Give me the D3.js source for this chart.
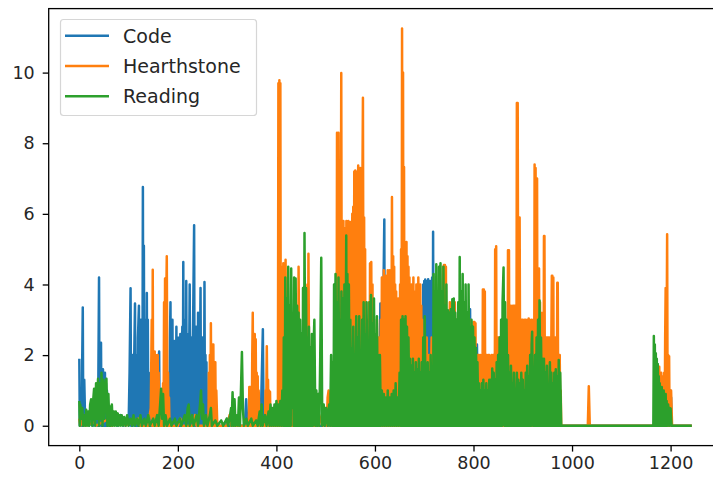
<!DOCTYPE html>
<html>
<head>
<meta charset="utf-8">
<script src="https://cdn.jsdelivr.net/npm/d3@7"></script>
<style>
  body { margin: 0; background: #fff; }
  svg { display: block; }
  text { font-family: "DejaVu Sans", sans-serif; fill: #262626; }
</style>
</head>
<body>
<svg id="chart" width="713" height="478"></svg>
<script>
var seriesNames = ['Code', 'Hearthstone', 'Reading'];
var seriesColors = ['#1f77b4', '#ff7f0e', '#2ca02c'];
var xTicks = [0, 200, 400, 600, 800, 1000, 1200];
var yTicks = [0, 2, 4, 6, 8, 10];

// [x, hours]
var code = [[0,1.9],[1,0],[3,0.5],[5,0],[6,2.0],[7,3.35],[8,0],[10,1.3],[12,0],[16,0.2],[20,0],[24,0.1],[28,0],[32,0.3],[36,0],[38,0],[40,4.2],[41,0],[42,1.0],[44,2.35],[45,0],[46,1.5],[47,0],[48,1.6],[49,0],[50,1.5],[51,0],[52,1.5],[53,0],[54,1.2],[55,0],[56,1.0],[58,0],[62,0.3],[66,0],[72,0.2],[78,0],[84,0.3],[90,0],[96,0.2],[100,0],[102,1.5],[104,3.89],[105,0],[106,1.5],[107,0],[108,2.0],[109,0],[111,1.5],[113,3.46],[114,0],[115,1.5],[116,0],[117,2.0],[118,0],[119,2.5],[121,3.4],[122,0],[123,2.5],[124,0],[125,3.0],[127,2.0],[128,0],[129,6.76],[130,0],[131,5.1],[132,0],[133,2.0],[134,0],[135,3.0],[136,0],[137,3.76],[138,0],[139,3.0],[140,0],[141,1.5],[143,0],[155,0],[157,1.0],[158,0],[160,1.5],[162,2.1],[163,0],[165,0.5],[167,0],[180,0],[182,1.5],[183,0],[184,2.5],[185,3.5],[186,0],[187,2.5],[188,0],[189,3.0],[190,0],[191,2.0],[192,0],[193,2.4],[194,0],[195,2.0],[196,0],[197,2.8],[198,0],[199,2.5],[200,0],[201,2.2],[202,0],[203,2.5],[204,0],[205,2.6],[206,0],[207,2.5],[208,0],[209,2.8],[210,0],[211,4.64],[212,0],[213,2.0],[214,0],[215,3.0],[216,0],[217,4.1],[218,0],[219,2.5],[220,0],[221,2.6],[222,0],[224,4.0],[225,0],[226,2.5],[227,0],[228,2.5],[229,0],[230,2.0],[231,3.0],[233,5.68],[234,0],[235,2.0],[236,0],[237,2.8],[238,0],[239,2.0],[240,0],[241,3.2],[242,0],[243,2.2],[244,0],[245,2.0],[246,3.9],[247,0],[248,2.0],[249,0],[250,2.5],[251,0],[252,2.0],[253,0],[254,4.07],[255,0],[256,2.0],[257,0],[258,1.8],[259,0],[260,0.5],[262,0],[270,0.2],[274,0],[298,0],[300,0.2],[303,0],[336,0],[338.6,0.75],[341,0],[368,0],[370,1.2],[372.5,2.73],[374,0],[376,0.3],[378,0],[395,0],[397.5,0.5],[400,0],[408,0],[410,0.8],[412,0],[420,0],[422,1.0],[424,0],[606,0],[608,1.5],[609,0],[611,3.46],[612,0],[613,3.0],[614,0],[615,3.0],[616,0],[617,3.5],[619,5.84],[620,0],[621,1.5],[623,0],[660,0],[663,1.5],[666,0],[670,2.5],[672,0],[694,0],[696,3.0],[697,0],[698,4.0],[699,0],[700,4.1],[701,0],[702,4.14],[703,0],[704,4.1],[705,0],[706,4.1],[707,0],[708,4.15],[709,0],[710,4.0],[711,0],[712,4.1],[713,0],[714,4.0],[715,0],[716,4.2],[717,0],[718,5.49],[719,0],[720,3.0],[722,0],[780,0],[782,2.5],[783,2.94],[785,0],[790,0],[792,3.0],[793,3.3],[795,0],[804,0],[806,2.0],[807,2.3],[809,0],[877,0],[879,3.0],[880,3.22],[882,0],[946,0],[948,2.0],[949,2.45],[951,0],[1195,0],[1197,0.8],[1198,0],[1199,1.0],[1200,0],[1201,0.8],[1202,0],[1204,0],[1243,0]];

var hearthstone = [[0,0.2],[2,0],[10,0.3],[12,0],[30,0.1],[34,0],[60,0.2],[64,0],[90,0.1],[94,0],[120,0.2],[124,0],[140,0],[145,0.5],[147,3.0],[148,0],[149,4.42],[150,0],[151,2.1],[152,0],[153,2.1],[154,0],[155,2.0],[156,0],[157,1.8],[158,0],[159,2.0],[160,0],[161,1.5],[162,0],[163,1.0],[165,0],[169,0],[170,1.2],[171,0],[172,3.5],[173,0],[174,4.17],[175,0],[176,3.0],[177.5,4.8],[179,0],[180,1.5],[181,0],[182,0.8],[183,0],[200,0],[205,0.2],[208,0],[230,0],[235,0.3],[238,0],[262,0],[263,1.5],[264,0],[265,2.0],[266,0],[267,2.9],[268,0],[269,2.0],[270,0],[271,2.3],[272,2.3],[273,0],[274,1.8],[275,0],[276,1.8],[277,0],[278,1.0],[280,0],[300,0],[305,0.3],[308,0],[344,0],[345,1.1],[346,0],[347,1.1],[348,0],[349,1.1],[350,0],[351,2.0],[352,3.2],[353,0],[354,2.5],[355,0],[356,2.6],[357,0],[358,2.45],[359,0],[360,1.5],[361,0],[362,1.4],[363,0],[364,1.0],[366,0],[377,0],[378,1.0],[379,0],[380.5,2.25],[382,0],[383,1.3],[384,0],[385,1.0],[386,0],[387,0.96],[388,0],[389,0.5],[391,0],[403,0],[404,9.7],[405,0],[406,9.78],[407,0],[408,9.7],[409,0],[410,4.5],[411,0],[412,4.45],[413,0],[414,4.6],[415,0],[416,4.5],[417,0],[418.6,4.7],[420,0],[421,3.0],[423,0],[424,3.0],[426,0],[427,2.5],[429,0],[430,3.0],[432,0],[433,2.5],[435,0],[436,3.0],[438,0],[439,2.5],[441,0],[442,3.0],[444,0],[445,4.5],[447,0],[448,2.5],[450,0],[451,2.0],[453,0],[454,2.5],[456,0],[458,2.0],[460,0],[461,2.5],[463,4.0],[464,0],[465,4.87],[467,0],[468,2.0],[470,0],[471,2.0],[473,0],[474,1.5],[476,0],[477,1.0],[479,0],[483,0.4],[486,0],[492,0.3],[495,0],[500,0.5],[502,0],[504,0.8],[506,1.0],[508,0],[511,0.8],[513,0],[516,1.0],[518,0],[520,2.0],[522,0],[523,8.3],[524,0],[526,8.3],[527,0],[528,3.0],[530,0],[531.6,9.99],[533,0],[534,5.0],[535,0],[536,5.8],[537,0],[538,5.2],[539,0],[540,5.6],[541,0],[542,5.8],[543,0],[544,4.8],[545,0],[546,5.8],[547,0],[548,5.0],[549,0],[550,5.77],[551,0],[552,5.3],[553,0],[554,6.0],[555,0],[556,6.2],[557,0],[558,7.2],[559,0],[560,7.23],[561,0],[562,5.8],[563,0],[564,7.2],[565,0],[566,7.37],[567,0],[568,6.6],[569,0],[570,7.3],[571,0],[572,6.2],[573,0],[574,5.6],[575.6,9.29],[577,0],[578,5.9],[579,0],[580,5.0],[581,0],[582,3.0],[583,0],[584,3.0],[585,0],[586,3.0],[587,0],[588,3.5],[589,0],[590,4.6],[591,0],[592.5,4.64],[594,0],[595,4.0],[596,0],[597,2.5],[598,0],[600,2.5],[602,0],[604,3.0],[606,0],[608,2.5],[610,0],[612,3.0],[613,0],[614,4.2],[615,0],[616,3.6],[617,0],[618,4.4],[619,0],[620,3.8],[621,0],[622,4.25],[623,0],[624,3.2],[625,0],[626,4.4],[627,0],[628,3.9],[629,0],[630,4.4],[631,0],[632,3.5],[633,0],[634.5,6.48],[636,0],[637,4.8],[638,0],[639,4.5],[640,0],[641,4.0],[642,0],[643,3.8],[644,0],[645,3.4],[646,0],[647,3.6],[648,0],[649,3.4],[650,0],[651,4.0],[652,0],[653,5.0],[654,0],[655,11.25],[656,0],[657,10.0],[658,0],[659,7.33],[660,0],[661,5.1],[662,0],[663,5.0],[664,5.2],[665,0],[666,4.8],[667,0],[668,4.5],[669,0],[670,4.2],[671,0],[672,3.5],[673,0],[674,4.0],[675,0],[676,3.0],[677,0],[678,4.2],[679,0],[680,3.8],[681,0],[682,2.5],[683,0],[684,4.0],[685,0],[686,3.6],[687,0],[688,4.2],[689,0],[690,3.2],[691,0],[692,4.0],[693,0],[694,3.4],[695,0],[696,3.0],[698,0],[700,2.5],[702,0],[705,2.5],[707,0],[710,2.0],[712,0],[715,2.5],[717,0],[720,2.5],[722,0],[725,3.0],[727,0],[730,3.0],[732,0],[735,3.5],[737,0],[738,4.5],[739,0],[740,4.55],[741,0],[742,4.55],[743,0],[744,4.5],[745,0],[747,3.0],[749,0],[752,3.5],[754,0],[757,3.0],[759,0],[762,3.5],[764,0],[767,3.0],[769,0],[772,3.0],[774,0],[777,3.0],[779,0],[782,3.0],[784,0],[787,3.0],[789,0],[792,3.0],[794,0],[797,2.5],[799,0],[800,2.94],[801,0],[802,2.94],[803,0],[804,2.9],[805,0],[806,2.0],[808,0],[809,2.0],[810,0],[811,2.0],[813,0],[814,2.0],[815,0],[816,2.0],[818,0],[819,3.86],[820,0],[821,3.86],[822,0],[823,3.8],[824,0],[825,2.0],[826,0],[827,2.0],[829,0],[830,2.0],[831,0],[832,2.0],[834,0],[835,1.5],[836,0],[837,2.0],[839,0],[840,2.0],[841,0],[842,2.0],[843,0],[844,5.0],[845,0],[846,5.08],[847,0],[848,2.5],[849,0],[850,2.5],[851,0],[852,2.5],[853,0],[854,2.5],[855,0],[856,2.5],[857,0],[858,2.5],[859,0],[860,2.5],[861,0],[862,2.5],[863,0],[864,2.5],[865,0],[866,2.5],[867,0],[868,2.5],[869,0],[870,4.97],[871,0],[872,4.97],[873,0],[874,3.4],[875,0],[876,3.4],[877,0],[878,3.2],[879,0],[880,3.4],[881,0],[882,3.4],[883,0],[884,3.4],[885,0],[886,3.0],[887,0],[888,9.14],[889,0],[889.7,9.14],[891,0],[892,5.9],[893,0],[893.6,5.9],[895,0],[896,3.0],[897,0],[898,3.0],[899,0],[900,3.0],[901,0],[902,2.8],[903,0],[904,3.0],[905,0],[906,3.0],[907,0],[908,2.8],[909,0],[910,3.0],[911,0],[912,3.04],[913,0],[914,3.0],[915,0],[916,2.8],[917,0],[918,3.0],[919,0],[920,2.8],[921,0],[922,3.0],[923,0],[924,7.4],[925,0],[926,7.3],[927,0],[928,7.0],[929,7.0],[930,0],[931,4.45],[932,0],[933,4.45],[934,0],[935,3.5],[936,0],[937,3.2],[938,0],[939,3.0],[940,0],[941,3.2],[942,0],[943,5.37],[944,5.37],[945,0],[946,2.5],[947,0],[948,2.5],[949,0],[950,2.5],[951,0],[952,2.5],[953,0],[954,2.5],[955,0],[956,2.5],[957,0],[958,2.5],[959,4.25],[960,4.25],[961,0],[962,4.2],[963,0],[964,2.5],[965,0],[966,2.5],[967,0],[968,2.5],[969,0],[970,4.05],[971,4.05],[972,0],[973,2.0],[974,0],[975,2.0],[976,0],[977,1.0],[978,0],[1032,0],[1034,1.12],[1036,0],[1175,0],[1177,1.67],[1178,0],[1179,1.5],[1180,0],[1181,1.5],[1182,0],[1183,1.4],[1184,0],[1185,1.2],[1186,0],[1187,1.5],[1188,0],[1189,2.5],[1190,3.9],[1191,0],[1193,5.42],[1194,0],[1195,2.0],[1196,0],[1197,1.97],[1198,0],[1199,0.5],[1201,1.0],[1203,0],[1243,0]];

var reading = [[0,0.7],[1,0],[2,0.6],[4,0.2],[6,0.5],[8,0],[10,0.3],[12,0],[14,0.45],[16,0],[18,0.4],[20,0],[22,0.6],[24,0.75],[26,0],[28,0.7],[30,1.05],[32,0],[34,1.2],[36,0.2],[38,1.33],[40,0],[42,1.2],[44,0.2],[45,1.5],[47,0],[49,1.3],[51,0.2],[53,1.1],[55,1.33],[57,0],[59,0.9],[61,0],[62,0.55],[64,0],[66,0.6],[68,0],[70,0.4],[72,0],[74,0.4],[76,0],[78,0.35],[80,0],[82,0.3],[84,0],[86,0.3],[88,0],[91,0.25],[94,0],[97,0.3],[100,0],[104,0.2],[107,0],[110,0.3],[113,0],[117,0.2],[120,0],[124,0.3],[127,0],[132,0.2],[135,0],[140,0.3],[143,0],[150,0.2],[153,0],[158,0.3],[161,0],[164,0.6],[166,1.05],[168,0.2],[170,0.9],[172,0],[175,0.3],[178,0],[184,0.2],[187,0],[194,0.2],[197,0],[204,0.2],[207,0],[214,0.3],[217,0],[220,0.5],[222,0.6],[224,0],[229,0.3],[232,0],[238,0.3],[241,0],[245,0.6],[247,1.0],[249,0.2],[251,0.6],[253,0],[257,0.3],[260,0],[265,0.3],[267,0.5],[269,0],[276,0.15],[280,0],[288,0.15],[292,0],[299,0.2],[302,0],[306,0.3],[308,0.5],[309,0],[311,0.95],[313,0],[315,0.75],[317,0],[320,0.3],[322,0],[324,0.8],[326,0],[328,1.0],[330,2.09],[332,0.5],[334,0],[339,0.2],[342,0],[349,0.2],[352,0],[359,0.15],[362,0],[366,0.4],[368,0],[370,0.6],[372,0],[377,0.3],[380,0],[384,0.4],[386,0],[388,0.6],[390,0],[392,0.5],[394,0],[396,0.6],[398,0],[400,0.7],[402,0],[404,0.6],[406,0],[408,0.7],[410,0],[412,1.0],[414,0],[415,2.5],[417,0],[418,4.2],[420,0],[421,3.6],[423,0],[424,4.5],[426,0],[427,3.4],[429,0],[430,4.45],[432,0.5],[433,3.2],[435,0],[436,4.2],[438,0],[439,4.17],[441,0],[442,3.4],[444,0],[445,3.2],[447,0],[448,3.0],[450,0],[451,2.6],[453,0],[454,3.9],[456,0],[457,5.46],[459,0],[460,3.9],[462,0],[463,2.5],[465,0],[466,2.8],[468,0],[469,2.2],[471,0],[472,2.6],[474,0],[475,2.0],[477,3.0],[479,0],[481,1.0],[483,0],[485,0.9],[487,0],[489,2.0],[491,4.76],[493,0],[496,0.6],[498,0],[501,0.5],[504,0],[507,0.6],[509,0],[511,2.0],[513,0],[514,1.8],[516,0],[517,4.0],[519,0],[520,4.3],[522,0],[523,3.5],[525,0],[526,4.2],[528,0],[529,3.0],[531,0],[532,3.8],[534,0],[535,3.6],[537,0],[538,4.0],[540,0],[541.7,5.39],[543,0],[544,4.3],[546,0],[547,4.0],[549,0],[550,3.0],[552,0],[553,2.2],[555,0],[556,2.8],[558,0],[559,1.8],[561,0],[562,3.1],[564,0],[565,2.5],[567,0],[568,3.1],[570,0],[571,1.5],[573,0],[574,3.0],[576,0],[577,3.5],[579,0],[580,2.6],[582,0],[583,3.5],[585,0],[586,2.4],[588,0],[589,3.5],[591,0],[592,3.7],[594,0],[595,2.9],[597,0],[598,3.6],[600,0],[601,2.6],[603,0],[604,3.1],[606,0],[607,2.0],[609,0],[610,2.0],[612,0],[614,1.0],[616,0],[618,0.9],[620,0],[622,0.8],[624,0],[626,1.0],[628,0],[630,0.8],[632,0],[634,0.9],[636,0],[638,1.0],[640,0],[642,1.2],[644,0],[646,0.8],[648,0],[650,1.5],[652,0],[653,3.0],[655,0],[656,3.1],[658,0],[659,3.0],[661,0],[662,3.1],[664,0],[665,2.8],[667,0],[668,2.5],[670,0],[671,1.9],[673,0],[674,1.7],[676,0],[677,1.9],[679,0],[680,1.5],[682,0],[683,1.8],[685,0],[686,1.6],[688,0],[689,1.9],[691,0],[692,1.5],[694,0],[695,1.8],[697,0],[698,2.5],[700,0],[701,3.1],[703,0],[704,1.5],[706,0],[707,1.8],[709,0],[710,1.5],[712,0],[713,2.0],[715,0],[716,1.5],[718,0],[719,4.3],[721,0],[722,3.8],[724,0],[724.5,4.57],[726,0],[727,3.6],[729,0],[730,4.5],[732,0],[733,4.6],[735,0],[736,3.8],[738,0],[739,4.5],[741,0],[742,3.4],[744,0],[745,4.0],[747,0],[748,3.27],[750,0],[751,3.2],[753,0],[754,3.3],[756,0],[757,3.58],[759,0],[760,3.6],[762,0],[763,3.2],[765,0],[766,3.0],[768,0],[769,3.5],[771,0],[772,4.78],[774,0],[775,3.8],[777,0],[778,4.3],[780,0],[781,3.5],[783,0],[784,4.0],[786,0],[787,3.2],[789,0],[790,4.0],[792,0],[793,2.8],[795,0],[796,3.0],[798,0],[799,2.8],[801,0],[802,2.5],[804,0],[805,2.2],[807,0],[808,1.8],[810,0],[811,1.2],[813,0],[814,1.0],[816,0],[817,1.2],[819,0],[820,1.3],[822,0],[823,1.0],[825,0],[826,1.2],[828,0],[829,1.0],[831,0],[832,1.3],[834,0],[835,1.3],[837,0],[838,1.62],[840,0],[841,1.5],[843,0],[844,1.3],[846,0],[847,1.8],[849,0],[850,2.0],[852,0],[853,2.5],[855,0],[856,3.0],[858,0],[859,3.5],[861,4.48],[863,0],[864,3.5],[866,0],[867,3.0],[869,0],[870,2.0],[872,0],[873,1.5],[875,0],[876,1.7],[878,0],[879,1.2],[881,0],[882,1.5],[884,0],[885,1.0],[887,0],[888,1.5],[890,0],[891,1.3],[893,0],[894,1.2],[896,0],[897,1.5],[899,0],[900,1.3],[902,0],[903,1.0],[905,0],[906,1.5],[908,0],[909,1.7],[911,0],[912,1.4],[914,0],[915,2.0],[917,0],[918,2.3],[919,2.66],[921,0],[922,1.5],[924,0],[925,2.0],[927,0],[928,2.5],[930,0],[931,3.0],[933,0],[934,3.55],[936,0],[937,2.5],[939,0],[940,1.9],[942,0],[943,1.9],[945,0],[946,1.5],[948,0],[949,1.7],[951,0],[952,1.0],[954,0],[955,1.8],[957,0],[958,1.5],[960,0],[961,1.2],[963,0],[964,1.5],[966,0],[967,1.6],[969,0],[970,1.4],[972,0],[973,1.86],[975,0],[976,1.5],[978,0],[1165,0],[1166,2.54],[1167,0],[1168,2.3],[1169,0],[1170,2.05],[1171,0],[1172,1.9],[1173,0],[1174,1.75],[1175,0],[1176,1.4],[1177,0],[1178,1.2],[1179,0],[1180,1.0],[1181,0],[1182,1.1],[1183,0],[1184,0.9],[1185,0],[1186,1.0],[1187,0],[1188,0.8],[1189,0],[1190,0.9],[1191,0],[1192,0.7],[1193,0],[1195,0.6],[1197,0],[1198,0.5],[1200,0.49],[1202,0],[1243,0]];

var allSeries = [code, hearthstone, reading];

var plotL = 48.7, plotR = 722.4, plotT = 8.6, plotB = 445.6;

var svg = d3.select('#chart');

var x = d3.scaleLinear().domain([-62.15, 1305.15]).range([plotL, plotR]);
var y = d3.scaleLinear().domain([-0.5625, 11.8125]).range([plotB, plotT]);

svg.append('defs').append('clipPath')
    .attr('id', 'plotClip')
    .append('rect')
    .attr('x', plotL)
    .attr('y', plotT)
    .attr('width', plotR - plotL)
    .attr('height', plotB - plotT);

var line = d3.line()
    .x(function (d) { return x(d[0]); })
    .y(function (d) { return y(d[1]); });

svg.append('g')
    .attr('clip-path', 'url(#plotClip)')
    .selectAll('path')
    .data(allSeries)
    .enter()
    .append('path')
    .attr('d', line)
    .attr('fill', 'none')
    .attr('stroke', function (d, i) { return seriesColors[i]; })
    .attr('stroke-width', 2.5)
    .attr('stroke-linejoin', 'round');

var xAxis = svg.append('g')
    .attr('transform', 'translate(0,' + plotB + ')')
    .call(d3.axisBottom(x).tickValues(xTicks).tickSize(6).tickPadding(5).tickFormat(d3.format('d')));

var yAxis = svg.append('g')
    .attr('transform', 'translate(' + plotL + ',0)')
    .call(d3.axisLeft(y).tickValues(yTicks).tickSize(6).tickPadding(8).tickFormat(d3.format('d')));

[xAxis, yAxis].forEach(function (g) {
    g.select('.domain').remove();
    g.selectAll('.tick line').attr('stroke', '#000').attr('stroke-width', 1.3);
    g.selectAll('.tick text')
        .attr('fill', '#262626')
        .style('font-size', '17.5px')
        .style('font-family', '"DejaVu Sans", sans-serif');
});

svg.append('rect')
    .attr('x', plotL)
    .attr('y', plotT)
    .attr('width', plotR - plotL)
    .attr('height', plotB - plotT)
    .attr('fill', 'none')
    .attr('stroke', '#000')
    .attr('stroke-width', 1.3);

var legend = svg.append('g');

legend.append('rect')
    .attr('x', 60.5)
    .attr('y', 19.5)
    .attr('width', 196)
    .attr('height', 96)
    .attr('rx', 3)
    .attr('fill', '#fff')
    .attr('fill-opacity', 0.8)
    .attr('stroke', '#d6d6d6')
    .attr('stroke-width', 1.2);

var legendRows = legend.selectAll('g.row')
    .data(seriesNames)
    .enter()
    .append('g')
    .attr('class', 'row')
    .attr('transform', function (d, i) { return 'translate(0,' + (35.7 + i * 30.3) + ')'; });

legendRows.append('line')
    .attr('x1', 65)
    .attr('x2', 109)
    .attr('stroke', function (d, i) { return seriesColors[i]; })
    .attr('stroke-width', 2.5);

legendRows.append('text')
    .attr('x', 123)
    .attr('dy', '0.36em')
    .style('font-size', '19px')
    .text(function (d) { return d; });
</script>
</body>
</html>
